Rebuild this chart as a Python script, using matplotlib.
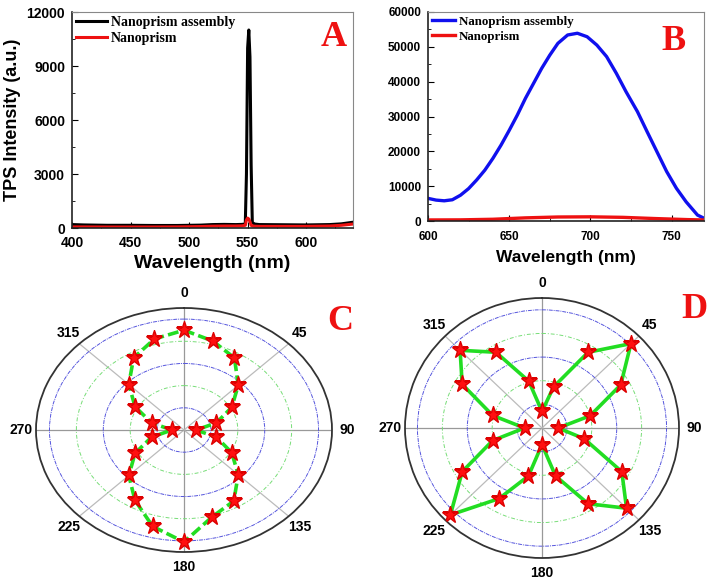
import numpy as np
import matplotlib
matplotlib.use('Agg')
import matplotlib.pyplot as plt

plt.rcParams['font.family'] = ['Liberation Sans', 'DejaVu Sans']
plt.rcParams['font.weight'] = 'bold'

# ---------------- data ----------------
# Panel A
wl_a = [400, 410, 430, 450, 470, 490, 500, 510, 520, 530, 540, 545, 548, 549,
        550, 551, 552, 553, 554, 556, 560, 580, 600, 620, 630, 640]
assembly_a = [190, 170, 150, 150, 140, 140, 150, 160, 190, 200, 190, 200, 220, 3000,
              10000, 11000, 9500, 3500, 300, 220, 190, 180, 170, 190, 230, 320]
prism_a = [60, 60, 55, 55, 55, 60, 70, 80, 100, 110, 110, 120, 150, 450,
           550, 500, 350, 150, 120, 100, 90, 90, 90, 110, 150, 220]

# Panel B
wl_b = [600, 605, 610, 615, 620, 625, 630, 635, 640, 645, 650, 655, 660, 665, 670,
        675, 680, 686, 692, 698, 704, 710, 716, 722, 729, 735, 741, 747, 753, 759,
        766, 770]
assembly_b = [6500, 6000, 5800, 6100, 7400, 9300, 11800, 14600, 18000, 21800, 26000,
              30400, 35200, 39500, 43800, 47600, 51000, 53400, 53900, 52900, 50500,
              47200, 42400, 37100, 31400, 25600, 19900, 14200, 9400, 5500, 1700, 800]
wl_b_red = [600, 620, 640, 660, 680, 700, 720, 740, 760, 770]
prism_b = [300, 330, 500, 900, 1150, 1200, 1050, 700, 400, 300]

# Panel C / D (polar), angle in degrees
angles = list(range(0, 360, 15))
r_c = [0.90, 0.83, 0.75, 0.57, 0.41, 0.25, 0.09, 0.25, 0.41, 0.57, 0.74, 0.81,
       1.01, 0.90, 0.73, 0.58, 0.42, 0.25, 0.09, 0.25, 0.42, 0.58, 0.75, 0.85]
r_d = [0.14, 0.36, 0.74, 1.01, 0.73, 0.40, 0.13, 0.35, 0.74, 0.96, 0.74, 0.42,
       0.14, 0.42, 0.69, 1.04, 0.74, 0.41, 0.14, 0.41, 0.74, 0.93, 0.74, 0.41]
theta_labels = ['0', '45', '90', '135', '180', '225', '270', '315']

# ---------------- figure ----------------
W, H = 714, 581
fig = plt.figure(figsize=(W / 100, H / 100), dpi=100)

def box(l, t, r, b):
    return [l / W, 1 - b / H, (r - l) / W, (b - t) / H]

serif = 'Liberation Serif'

def style_cart(ax, fs, xpad, ypad):
    for s in ['top', 'right']:
        ax.spines[s].set_color('#888888')
    for s in ['bottom', 'left']:
        ax.spines[s].set_color('#222222')
        ax.spines[s].set_linewidth(1.2)
    ax.tick_params(which='both', direction='in', top=False, right=False)
    ax.tick_params(which='major', length=4, labelsize=fs)
    ax.tick_params(axis='x', which='major', pad=xpad)
    ax.tick_params(axis='y', which='major', pad=ypad)
    ax.tick_params(which='minor', length=2)

# Panel A
axA = fig.add_axes(box(72, 12, 353, 228))
axA.plot(wl_a, assembly_a, color='black', lw=2.2, label='Nanoprism assembly')
axA.plot(wl_a, prism_a, color='#ee1111', lw=2.2, label='Nanoprism')
axA.set_xlim(400, 640)
axA.set_ylim(0, 12000)
axA.set_xticks([400, 450, 500, 550, 600])
axA.set_xticks([425, 475, 525, 575, 625], minor=True)
axA.set_yticks([0, 3000, 6000, 9000, 12000])
axA.set_yticks([1500, 4500, 7500, 10500], minor=True)
style_cart(axA, 10, 6, 5)
axA.set_xlabel('Wavelength (nm)', fontsize=14, fontweight='bold', labelpad=3)
axA.set_ylabel('TPS Intensity (a.u.)', fontsize=13, fontweight='bold', labelpad=4)
axA.legend(loc='upper left', frameon=False, prop={'family': serif, 'weight': 'bold', 'size': 10},
           handlelength=2.2, handletextpad=0.3, borderaxespad=0.1, labelspacing=0.2,
           borderpad=0.2)

# Panel B
axB = fig.add_axes(box(428, 12, 704, 221))
axB.plot(wl_b, assembly_b, color='#1010ee', lw=2.4, label='Nanoprism assembly')
axB.plot(wl_b_red, prism_b, color='#ee1111', lw=2.4, label='Nanoprism')
axB.set_xlim(600, 770)
axB.set_ylim(0, 60000)
axB.set_xticks([600, 650, 700, 750])
axB.set_xticks([625, 675, 725], minor=True)
axB.set_yticks([0, 10000, 20000, 30000, 40000, 50000, 60000])
axB.set_yticks([5000, 15000, 25000, 35000, 45000, 55000], minor=True)
style_cart(axB, 8.5, 7, 5)
axB.set_xlabel('Wavelength (nm)', fontsize=12.5, fontweight='bold', labelpad=5)
axB.legend(loc='upper left', frameon=False, prop={'family': serif, 'weight': 'bold', 'size': 9.3},
           handlelength=1.8, handletextpad=0.3, borderaxespad=0.1, labelspacing=0.2,
           borderpad=0.2)

# Polar panels
def polar_panel(rect, r, dashed):
    ax = fig.add_axes(rect, projection='polar')
    ax.set_theta_zero_location('N')
    ax.set_theta_direction(-1)
    ax.set_aspect('auto')
    th = np.deg2rad(angles + [angles[0]])
    rr = list(r) + [r[0]]
    ax.plot(th, rr, color='#22dd22', lw=2.6, ls=(0, (3, 1.2)) if dashed else '-', zorder=3)
    ax.plot(th[:-1], rr[:-1], ls='none', marker='*', ms=12.5, color='#ff1010',
            markeredgecolor='#dd0000', zorder=4)
    ax.set_ylim(0, 1.1)
    ax.set_yticks([0.2, 0.4, 0.6, 0.8, 1.0])
    ax.set_yticklabels([])
    ax.set_xticks(np.deg2rad(np.arange(0, 360, 45)))
    ax.set_xticklabels(theta_labels)
    ax.set_xticks(np.deg2rad(np.arange(22.5, 360, 45)), minor=True)
    ax.tick_params(axis='x', which='major', labelsize=10, pad=4, direction='in', length=4)
    ax.tick_params(axis='x', which='minor', direction='in', length=4)
    ax.grid(True)
    for i, gl in enumerate(ax.yaxis.get_gridlines()):
        if i % 2 == 0:
            gl.set_color('#5555dd')
            gl.set_linestyle((0, (4, 1, 1, 1)))
        else:
            gl.set_color('#77dd77')
            gl.set_linestyle((0, (4, 2, 1, 2)))
        gl.set_linewidth(0.7)
    for i, gl in enumerate(ax.xaxis.get_gridlines()):
        gl.set_linestyle('-')
        gl.set_linewidth(0.9)
        gl.set_color('#999999' if i % 2 == 0 else '#bbbbbb')
    ax.spines['polar'].set_color('#333333')
    ax.spines['polar'].set_linewidth(1.3)
    return ax

axC = polar_panel(box(36, 308, 332, 552), r_c, True)
axD = polar_panel(box(405, 298, 679, 558), r_d, False)

# Panel letters
for letter, x, y in [('A', 334, 38), ('B', 674, 41), ('C', 340, 322), ('D', 694, 309)]:
    fig.text(x / W, 1 - y / H, letter, color='#ee1111', fontsize=26, fontweight='bold',
             family=serif, ha='center', va='center')

fig.savefig('out.png', dpi=100)
